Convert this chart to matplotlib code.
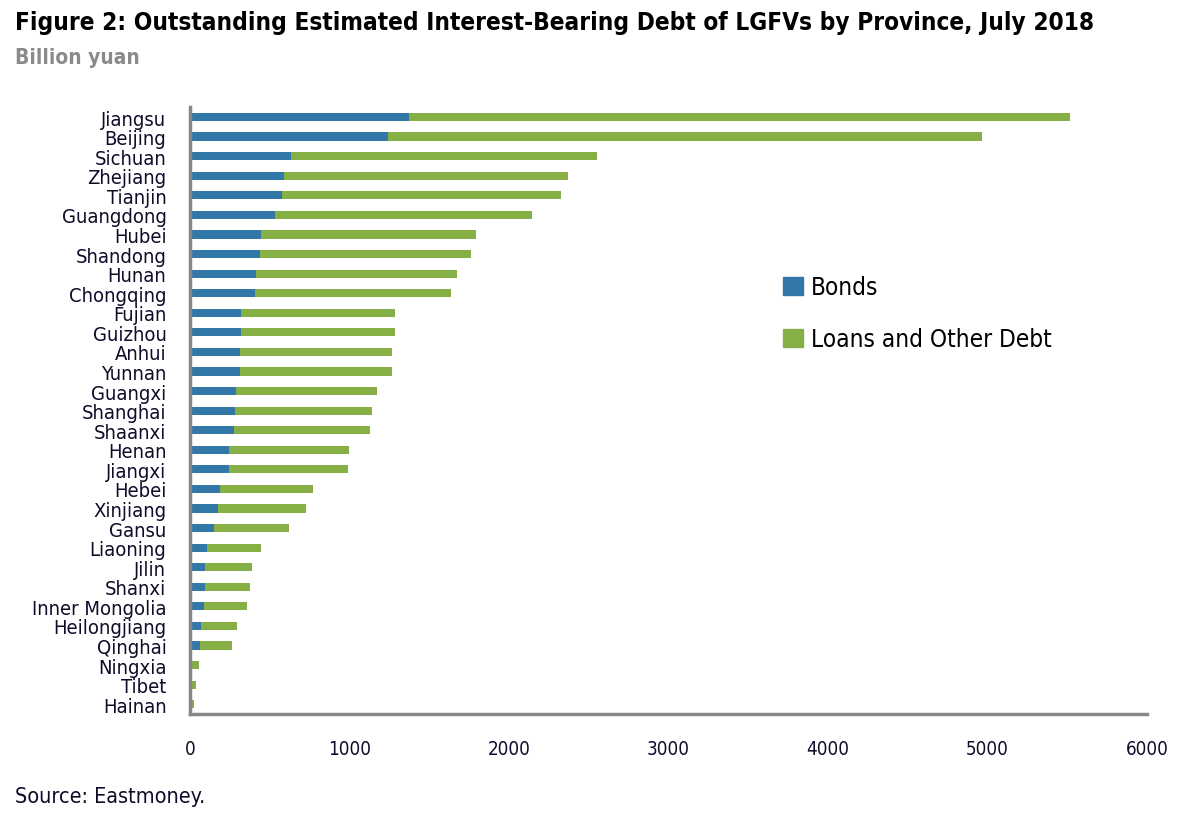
import numpy as np
import matplotlib.pyplot as plt
from matplotlib.patches import Patch

provinces = ['Jiangsu', 'Beijing', 'Sichuan', 'Zhejiang', 'Tianjin', 'Guangdong', 'Hubei',
             'Shandong', 'Hunan', 'Chongqing', 'Fujian', 'Guizhou', 'Anhui', 'Yunnan',
             'Guangxi', 'Shanghai', 'Shaanxi', 'Henan', 'Jiangxi', 'Hebei', 'Xinjiang',
             'Gansu', 'Liaoning', 'Jilin', 'Shanxi', 'Inner Mongolia', 'Heilongjiang',
             'Qinghai', 'Ningxia', 'Tibet', 'Hainan']
bonds = [1373, 1241, 633, 589, 577, 533, 445, 439, 414, 408, 320, 320, 314, 314,
         289, 282, 276, 245, 245, 188, 176, 150, 107, 94, 92, 88, 69, 63, 10, 0, 0]
totals = [5517, 4966, 2550, 2372, 2328, 2146, 1793, 1760, 1674, 1636, 1287, 1285, 1268, 1265,
          1175, 1143, 1127, 997, 993, 771, 725, 621, 445, 387, 378, 360, 295, 261, 56, 35, 27]
loans = [t - b for t, b in zip(totals, bonds)]

blue = '#3177a8'
green = '#86b046'
plt.rcParams['font.family'] = ['DejaVu Sans']
plt.rcParams['font.stretch'] = 'condensed'

fig = plt.figure(figsize=(11.9, 8.2), dpi=100)
ax = fig.add_axes([0.1597, 0.128, 0.8042, 0.74])

y = np.arange(len(provinces))
ax.barh(y, bonds, height=0.42, color=blue)
ax.barh(y, loans, left=bonds, height=0.42, color=green)

ax.set_xlim(0, 6000)
ax.set_ylim(30.5, -0.5)
ax.set_yticks(y)
ax.set_yticklabels(provinces, fontsize=14.5, color='#0d0d2b')
ax.set_xticks(np.arange(0, 6001, 1000))
ax.tick_params(axis='x', labelsize=13.5, length=0, pad=18, colors='#0d0d2b')
ax.tick_params(axis='y', length=0, pad=17)
for s in ['top', 'right']:
    ax.spines[s].set_visible(False)
for s in ['left', 'bottom']:
    ax.spines[s].set_color('#888888')
    ax.spines[s].set_linewidth(2.5)

handles = [Patch(color=blue, label='Bonds'), Patch(color=green, label='Loans and Other Debt')]
ax.legend(handles=handles, loc='upper left', bbox_to_anchor=(0.62, 0.723), frameon=False,
          borderpad=0, borderaxespad=0,
          fontsize=17.5, handlelength=0.8, handleheight=0.8, handletextpad=0.35, labelspacing=1.15)

fig.text(0.013, 0.987, 'Figure 2: Outstanding Estimated Interest-Bearing Debt of LGFVs by Province, July 2018',
         fontsize=17.5, fontweight='bold', va='top', ha='left', color='black')
fig.text(0.013, 0.941, 'Billion yuan', fontsize=15, fontweight='bold', va='top', ha='left', color='#8a8a8a')
fig.text(0.013, 0.028, 'Source: Eastmoney.', fontsize=15.5, va='center', ha='left', color='#0d0d2b')

fig.savefig('out.png')
